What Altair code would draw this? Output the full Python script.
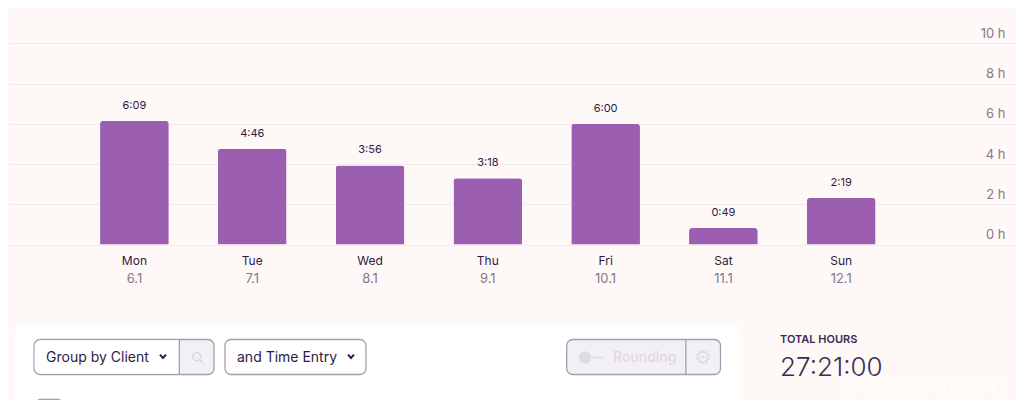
import altair as alt
import pandas as pd

days = ["Mon", "Tue", "Wed", "Thu", "Fri", "Sat", "Sun"]
dates = ["6.1", "7.1", "8.1", "9.1", "10.1", "11.1", "12.1"]
durations = ["6:09", "4:46", "3:56", "3:18", "6:00", "0:49", "2:19"]
hours = [6.15, 4.767, 3.933, 3.3, 6.0, 0.817, 2.317]
y_ticks = [0, 2, 4, 6, 8, 10]

FONT = "Inter"
BG = "#fef9f6"
BAR = "#9b5eb0"
GRID = "#f1ebf0"
INK = "#2f1a45"
MUTED = "#86778f"
BORDER = "#a99cb1"
DIS = "#f1f0f4"
DIS_ICON = "#dedce2"

df = pd.DataFrame({"day": days, "date": dates, "dur": durations, "h": hours})
one = pd.DataFrame({"k": [0]})

x_enc = alt.X("day:N", sort=days, title=None, axis=None,
              scale=alt.Scale(paddingInner=0.417, paddingOuter=0.987, align=0.396))
y_scale = alt.Scale(domain=[-7.736, 11.766], nice=False, zero=False)
y_enc = alt.Y("h:Q", title=None, scale=y_scale,
              axis=alt.Axis(orient="right", values=y_ticks, grid=True, gridColor=GRID, gridWidth=1,
                            domain=False, ticks=False, labelExpr="datum.value + ' h'",
                            labelAlign="right", labelBaseline="middle", labelPadding=-11,
                            labelOffset=-10, labelFont=FONT, labelFontSize=13, labelColor=MUTED))


def P(x):  # reference-image pixel to chart pixel
    return x - 8


def box(x0, x1, y0, y1, fill, stroke=None, r=0, sw=1.3, **extra):
    kw = dict(fill=fill, **extra)
    if r:
        kw["cornerRadius"] = r
    if stroke:
        kw.update(stroke=stroke, strokeWidth=sw)
    return alt.Chart(one).mark_rect(**kw).encode(
        x=alt.value(P(x0)), x2=alt.value(P(x1)), y=alt.value(P(y0)), y2=alt.value(P(y1)))


def label(s, x, y, size=14, color=INK, weight=400, font=FONT, align="left", **kw):
    return alt.Chart(one).mark_text(text=s, align=align, baseline="middle", font=font,
                                    fontSize=size, fontWeight=weight, color=color, **kw).encode(
        x=alt.value(P(x)), y=alt.value(P(y)))


def glyph(path, x, y, size, color, sw=2):
    return alt.Chart(one).mark_point(shape=path, size=size, filled=False, stroke=color,
                                     strokeWidth=sw, opacity=1).encode(
        x=alt.value(P(x)), y=alt.value(P(y)))


CHEVRON = "M-1,-0.6L0,0.5L1,-0.6"
SEARCH = "M0.5,0A0.5,0.5,0,1,1,-0.5,0A0.5,0.5,0,1,1,0.5,0M0.35,0.35L0.8,0.8"
TOGGLE = "M0,0L1,0"

bars = alt.Chart(df).mark_bar(color=BAR, cornerRadiusTopLeft=3, cornerRadiusTopRight=3).encode(x=x_enc, y=y_enc)
dur_text = alt.Chart(df).mark_text(dy=-15, baseline="middle", font=FONT, fontSize=11, color=INK).encode(
    x=alt.X("day:N", sort=days), y=alt.Y("h:Q"), text="dur:N")
day_text = alt.Chart(df).mark_text(baseline="middle", font=FONT, fontSize=12, color=INK).encode(
    x=alt.X("day:N", sort=days), y=alt.value(P(260.5)), text="day:N")
date_text = alt.Chart(df).mark_text(baseline="middle", font=FONT, fontSize=13, color=MUTED).encode(
    x=alt.X("day:N", sort=days), y=alt.value(P(278.5)), text="date:N")

ui = [
    box(15, 740, 325, 430, "#ffffff", r=8),
    # group-by control
    box(34, 214, 339.5, 374.5, DIS, BORDER, r=6),
    box(34.7, 179, 340.2, 373.8, "#ffffff", cornerRadiusTopLeft=6, cornerRadiusBottomLeft=6),
    box(178.7, 180, 339.5, 374.5, BORDER),
    label("Group by Client", 46, 358),
    glyph(CHEVRON, 163, 356.5, 36, INK),
    glyph(SEARCH, 196.7, 356.7, 256, "#dad8de", sw=1.6),
    # second control
    box(225, 366, 339.5, 374.5, "#ffffff", BORDER, r=6),
    label("and Time Entry", 237, 358),
    glyph(CHEVRON, 351, 356.5, 36, INK),
    # rounding control
    box(566.7, 720.5, 339.5, 374.5, DIS, BORDER, r=6),
    box(685.2, 686.5, 339.5, 374.5, BORDER),
    glyph(TOGGLE, 585, 357.5, 1296, DIS_ICON, sw=1.5),
    alt.Chart(one).mark_circle(color=DIS_ICON, opacity=1, size=154).encode(x=alt.value(P(585)), y=alt.value(P(357.5))),
    label("Rounding", 613, 358, color="#e6d5ea", weight=500),
    label("\u2699", 703, 357.5, size=20, color=DIS_ICON, font="DejaVu Sans", align="center"),
    # checkbox at the bottom
    box(35, 63.5, 399.5, 430, "#ffffff", BORDER, r=6),
    # totals
    label("TOTAL HOURS", 780, 339.5, size=11, weight=600, color="#3d2b52"),
    label("27:21:00", 780, 367.5, size=26, weight=300, color="#3d2b52"),
    label("\u00a9fixogram.ru", 840, 385, size=29, color="#ffffff", font="Liberation Sans", opacity=0.6),
]

chart = alt.layer(bars, dur_text, day_text, date_text, *ui).properties(
    width=1008, height=392, background=BG, padding=0,
    autosize=alt.AutoSizeParams(type="none"),
).configure_view(stroke=None)

chart.save("out.html", embed_options={"renderer": "svg", "actions": False})
